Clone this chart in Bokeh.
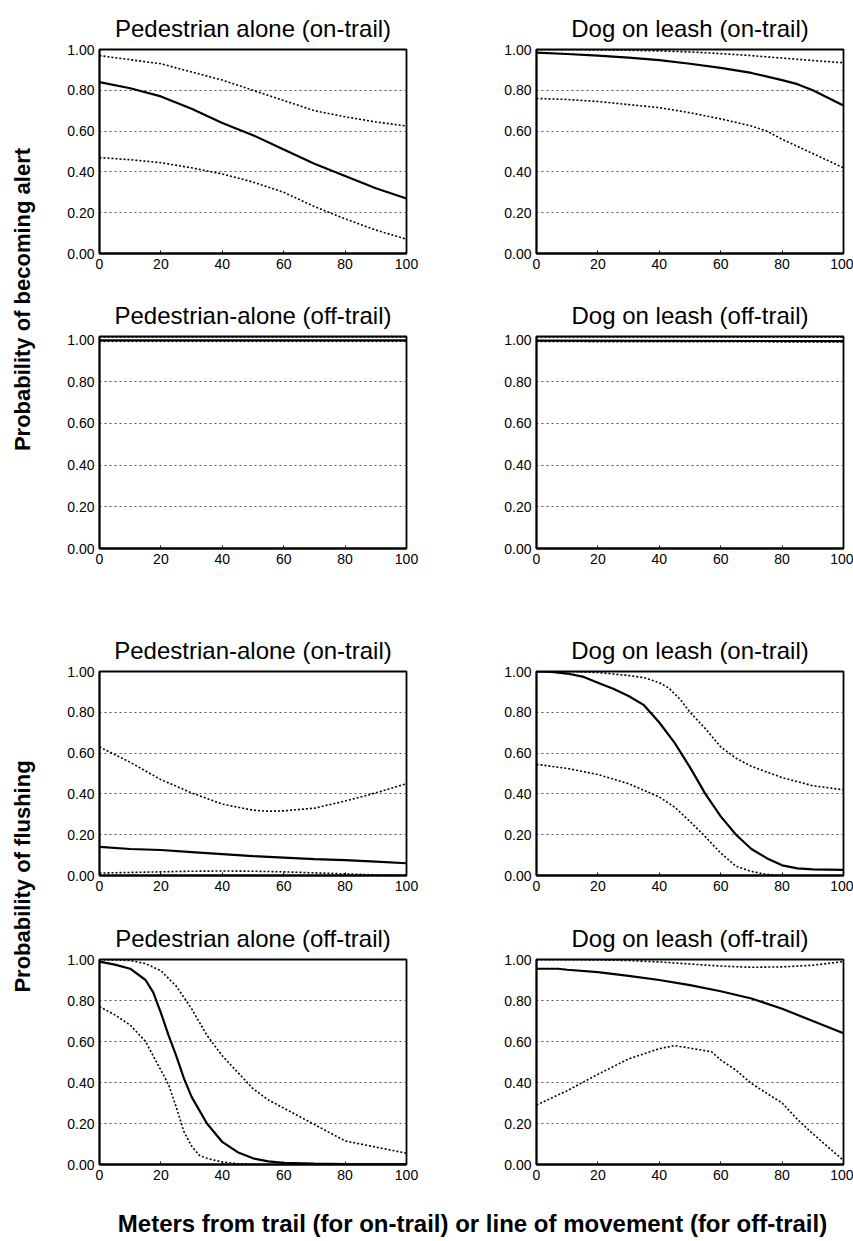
from bokeh.plotting import figure
from bokeh.layouts import row, column
from bokeh.models import Range1d, FixedTicker, NumeralTickFormatter, Label
from bokeh.embed import file_html
from bokeh.resources import INLINE

# ---------------- data ----------------
# Probability of becoming alert
ped_on_alert_x = [0, 10, 20, 30, 40, 50, 60, 70, 80, 90, 100]
ped_on_alert_mean = [0.84, 0.81, 0.77, 0.71, 0.64, 0.58, 0.51, 0.44, 0.38, 0.32, 0.27]
ped_on_alert_upper = [0.97, 0.95, 0.93, 0.89, 0.85, 0.80, 0.75, 0.70, 0.67, 0.645, 0.625]
ped_on_alert_lower = [0.47, 0.46, 0.445, 0.42, 0.39, 0.35, 0.30, 0.23, 0.17, 0.115, 0.07]

dog_on_alert_x = [0, 10, 20, 30, 40, 50, 60, 70, 80, 85, 90, 100]
dog_on_alert_mean = [0.985, 0.978, 0.97, 0.96, 0.948, 0.93, 0.91, 0.885, 0.85, 0.83, 0.80, 0.725]
dog_on_alert_upper_x = [0, 10, 20, 30, 40, 50, 60, 70, 80, 90, 100]
dog_on_alert_upper = [0.999, 0.999, 0.998, 0.996, 0.993, 0.988, 0.98, 0.97, 0.958, 0.946, 0.935]
dog_on_alert_lower_x = [0, 10, 20, 30, 40, 50, 60, 70, 75, 80, 90, 100]
dog_on_alert_lower = [0.76, 0.755, 0.745, 0.73, 0.715, 0.69, 0.66, 0.625, 0.60, 0.56, 0.49, 0.42]

ped_off_alert_x = [0, 100]
ped_off_alert_mean = [0.997, 0.997]
ped_off_alert_upper = [1.014, 1.014]
ped_off_alert_lower = [0.993, 0.993]

dog_off_alert_x = [0, 100]
dog_off_alert_mean = [0.996, 0.994]
dog_off_alert_upper = [1.014, 1.014]
dog_off_alert_lower = [0.992, 0.99]

# Probability of flushing
ped_on_flush_x = [0, 10, 20, 30, 40, 50, 60, 70, 80, 90, 100]
ped_on_flush_mean = [0.14, 0.13, 0.125, 0.115, 0.105, 0.095, 0.088, 0.08, 0.075, 0.068, 0.06]
ped_on_flush_upper_x = [0, 10, 20, 30, 40, 50, 55, 60, 70, 80, 90, 100]
ped_on_flush_upper = [0.63, 0.555, 0.47, 0.405, 0.35, 0.32, 0.315, 0.317, 0.33, 0.365, 0.405, 0.45]
ped_on_flush_lower = [0.012, 0.015, 0.018, 0.021, 0.022, 0.021, 0.018, 0.013, 0.008, 0.003, 0.001]

dog_on_flush_x = [0, 5, 10, 15, 20, 25, 30, 35, 40, 45, 50, 55, 60, 65, 70, 75, 80, 85, 90, 100]
dog_on_flush_mean = [1.0, 0.998, 0.99, 0.975, 0.945, 0.915, 0.88, 0.835, 0.75, 0.65, 0.53, 0.40,
                     0.29, 0.20, 0.13, 0.085, 0.05, 0.035, 0.03, 0.028]
dog_on_flush_upper_x = [0, 10, 20, 30, 35, 40, 43, 47, 50, 55, 60, 65, 70, 80, 90, 100]
dog_on_flush_upper = [1.0, 1.0, 0.995, 0.98, 0.97, 0.945, 0.92, 0.86, 0.80, 0.72, 0.63, 0.575,
                      0.535, 0.48, 0.44, 0.42]
dog_on_flush_lower_x = [0, 10, 20, 30, 40, 45, 50, 55, 60, 65, 70, 75, 80, 90, 100]
dog_on_flush_lower = [0.545, 0.525, 0.495, 0.45, 0.385, 0.335, 0.265, 0.19, 0.11, 0.045, 0.02,
                      0.005, 0.0, 0.0, 0.0]

ped_off_flush_x = [0, 5, 10, 15, 17.5, 20, 22.5, 25, 27.5, 30, 35, 40, 45, 50, 55, 60, 70, 80, 100]
ped_off_flush_mean = [0.99, 0.975, 0.955, 0.90, 0.84, 0.74, 0.63, 0.53, 0.42, 0.33, 0.20, 0.11,
                      0.06, 0.03, 0.015, 0.008, 0.004, 0.002, 0.001]
ped_off_flush_upper_x = [0, 10, 15, 20, 25, 30, 35, 40, 45, 50, 55, 60, 70, 80, 90, 100]
ped_off_flush_upper = [1.0, 0.995, 0.98, 0.945, 0.87, 0.76, 0.63, 0.53, 0.45, 0.37, 0.315, 0.275,
                       0.195, 0.115, 0.085, 0.055]
ped_off_flush_lower_x = [0, 5, 10, 15, 17.5, 20, 22.5, 25, 27.5, 30, 32.5, 35, 40, 45, 50, 100]
ped_off_flush_lower = [0.77, 0.73, 0.68, 0.60, 0.53, 0.46, 0.39, 0.28, 0.16, 0.09, 0.045, 0.03,
                       0.012, 0.004, 0.0, 0.0]

dog_off_flush_x = [0, 7, 10, 20, 30, 40, 50, 60, 70, 80, 90, 100]
dog_off_flush_mean = [0.955, 0.955, 0.95, 0.938, 0.92, 0.90, 0.875, 0.845, 0.81, 0.76, 0.70, 0.64]
dog_off_flush_upper_x = [0, 10, 20, 30, 40, 50, 60, 70, 80, 90, 100]
dog_off_flush_upper = [0.999, 0.999, 0.998, 0.995, 0.988, 0.978, 0.968, 0.962, 0.964, 0.972, 0.99]
dog_off_flush_lower_x = [0, 10, 20, 30, 40, 45, 57, 60, 65, 70, 80, 85, 90, 100]
dog_off_flush_lower = [0.29, 0.36, 0.44, 0.515, 0.565, 0.58, 0.55, 0.51, 0.46, 0.395, 0.30, 0.22,
                       0.15, 0.02]

titles = ["Pedestrian alone (on-trail)", "Dog on leash (on-trail)",
          "Pedestrian-alone (off-trail)", "Dog on leash (off-trail)",
          "Pedestrian-alone (on-trail)", "Dog on leash (on-trail)",
          "Pedestrian alone (off-trail)", "Dog on leash (off-trail)"]
y_ticks = [0.0, 0.2, 0.4, 0.6, 0.8, 1.0]
grid_ticks = [0.2, 0.4, 0.6, 0.8]
x_ticks = [0, 20, 40, 60, 80, 100]
ylabel_alert = "Probability of becoming alert"
ylabel_flush = "Probability of flushing"
xlabel = "Meters from trail (for on-trail) or line of movement (for off-trail)"

FONT = "Liberation Sans"

# ---------------- panels ----------------
def panel(title, mean, upper, lower, y_end, width, height, bl, br, bt, bb):
    p = figure(width=width, height=height, x_range=Range1d(0, 100), y_range=Range1d(0, y_end),
               output_backend="svg", toolbar_location=None,
               min_border_left=bl, min_border_right=br, min_border_top=bt, min_border_bottom=bb)
    p.title.text = title
    p.title.align = "center"
    p.title.text_font = FONT
    p.title.text_font_size = "24px"
    p.title.text_font_style = "normal"
    p.title.text_color = "black"
    p.title.standoff = 16
    p.outline_line_color = "black"
    p.outline_line_width = 1.8
    p.outline_line_alpha = 1.0
    p.background_fill_color = "white"
    p.border_fill_color = "white"
    for ax in (p.xaxis[0], p.yaxis[0]):
        ax.axis_line_color = "black"
        ax.axis_line_width = 1.8
        ax.major_label_text_font = FONT
        ax.major_label_text_font_size = "14px"
        ax.major_label_text_color = "black"
        ax.minor_tick_line_color = None
        ax.major_tick_line_color = "black"
        ax.major_tick_out = 0
        ax.major_tick_in = 3
    p.xaxis.ticker = FixedTicker(ticks=x_ticks)
    p.yaxis.ticker = FixedTicker(ticks=y_ticks)
    p.yaxis.formatter = NumeralTickFormatter(format="0.00")
    p.yaxis.major_tick_in = 0
    p.xgrid.visible = False
    p.ygrid.ticker = FixedTicker(ticks=grid_ticks)
    p.ygrid.grid_line_color = "#555555"
    p.ygrid.grid_line_dash = "2 3"
    p.ygrid.grid_line_width = 1
    for xs, ys in upper + lower:
        p.line(xs, ys, line_color="black", line_width=1.6, line_dash="2 2")
    p.line(mean[0], mean[1], line_color="black", line_width=2.2)
    return p

LW, RW = 412, 383
LBL, LBR = 41, 64
RBL, RBR = 66, 10
rows_geo = [  # height, border_top, border_bottom, y_end
    (290, 49, 37, 1.0),
    (300, 46, 42, 1.016),
    (310, 81, 25, 1.0),
    (288, 59, 24, 1.0),
]

panel_data = [
    ((ped_on_alert_x, ped_on_alert_mean), [(ped_on_alert_x, ped_on_alert_upper)],
     [(ped_on_alert_x, ped_on_alert_lower)]),
    ((dog_on_alert_x, dog_on_alert_mean), [(dog_on_alert_upper_x, dog_on_alert_upper)],
     [(dog_on_alert_lower_x, dog_on_alert_lower)]),
    ((ped_off_alert_x, ped_off_alert_mean), [(ped_off_alert_x, ped_off_alert_upper)],
     [(ped_off_alert_x, ped_off_alert_lower)]),
    ((dog_off_alert_x, dog_off_alert_mean), [(dog_off_alert_x, dog_off_alert_upper)],
     [(dog_off_alert_x, dog_off_alert_lower)]),
    ((ped_on_flush_x, ped_on_flush_mean), [(ped_on_flush_upper_x, ped_on_flush_upper)],
     [(ped_on_flush_x, ped_on_flush_lower)]),
    ((dog_on_flush_x, dog_on_flush_mean), [(dog_on_flush_upper_x, dog_on_flush_upper)],
     [(dog_on_flush_lower_x, dog_on_flush_lower)]),
    ((ped_off_flush_x, ped_off_flush_mean), [(ped_off_flush_upper_x, ped_off_flush_upper)],
     [(ped_off_flush_lower_x, ped_off_flush_lower)]),
    ((dog_off_flush_x, dog_off_flush_mean), [(dog_off_flush_upper_x, dog_off_flush_upper)],
     [(dog_off_flush_lower_x, dog_off_flush_lower)]),
]

grid_rows = []
for r, (h, bt, bb, yend) in enumerate(rows_geo):
    i = 2 * r
    m, u, l = panel_data[i]
    left = panel(titles[i], m, u, l, yend, LW, h, LBL, LBR, bt, bb)
    m, u, l = panel_data[i + 1]
    right = panel(titles[i + 1], m, u, l, yend, RW, h, RBL, RBR, bt, bb)
    grid_rows.append(row(left, right, spacing=0))
panels = column(*grid_rows, spacing=0)
total_h = sum(g[0] for g in rows_geo)

# ---------------- shared axis labels ----------------
def blank(width, height):
    p = figure(width=width, height=height, x_range=Range1d(0, width), y_range=Range1d(0, height),
               output_backend="svg", toolbar_location=None, x_axis_type=None, y_axis_type=None,
               min_border=0)
    p.grid.visible = False
    p.outline_line_color = None
    return p

ylab = blank(58, total_h)
for txt, yc in [(ylabel_alert, total_h - 299), (ylabel_flush, total_h - 876)]:
    ylab.add_layout(Label(x=22, y=yc, text=txt, angle=1.5707963, text_align="center",
                          text_baseline="middle", text_font=FONT, text_font_size="22px",
                          text_font_style="bold", text_color="black"))

xlab = blank(853, 52)
xlab.add_layout(Label(x=472, y=17, text=xlabel, text_align="center", text_baseline="middle",
                      text_font=FONT, text_font_size="24px", text_font_style="bold",
                      text_color="black"))

layout = column(row(ylab, panels, spacing=0), xlab, spacing=0)

open("out.html", "w").write(file_html(layout, INLINE))
